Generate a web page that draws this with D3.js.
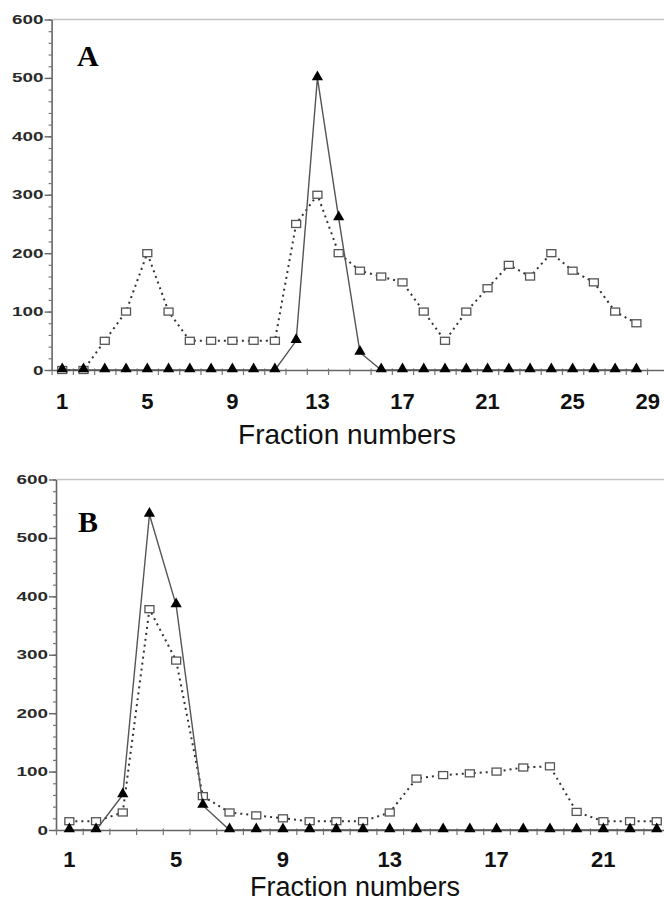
<!DOCTYPE html>
<html>
<head>
<meta charset="utf-8">
<script src="https://cdn.jsdelivr.net/npm/d3@7"></script>
<style>
  html, body { margin: 0; padding: 0; background: #fff; }
  svg { display: block; }
</style>
</head>
<body>
<script>
// ---- Data ----
const fractionsA = [1,2,3,4,5,6,7,8,9,10,11,12,13,14,15,16,17,18,19,20,21,22,23,24,25,26,27,28];
const squaresA   = [0,0,50,100,200,100,50,50,50,50,50,250,300,200,170,160,150,100,50,100,140,180,160,200,170,150,100,80];
const trianglesA = [0,0,0,0,0,0,0,0,0,0,0,50,500,260,30,0,0,0,0,0,0,0,0,0,0,0,0,0];
const xLabelsA   = [1,5,9,13,17,21,25,29];

const fractionsB = [1,2,3,4,5,6,7,8,9,10,11,12,13,14,15,16,17,18,19,20,21,22,23];
const squaresB   = [15,15,30,378,290,58,30,25,20,15,15,15,30,88,94,97,100,107,109,31,15,15,15];
const trianglesB = [0,0,60,540,385,42,0,0,0,0,0,0,0,0,0,0,0,0,0,0,0,0,0];
const xLabelsB   = [1,5,9,13,17,21];

const yLabels = [0,100,200,300,400,500,600];
const xTitle = "Fraction numbers";

// ---- Drawing ----
const W = 664, H = 902;
const svg = d3.select("body").append("svg").attr("width", W).attr("height", H);

function drawPanel(o) {
  const g = svg.append("g");
  const x = d3.scaleLinear().domain(o.xDomain).range(o.xRange);
  const y = d3.scaleLinear().domain([0, 600]).range(o.yRange);
  const x0 = o.xRange[0];

  // top frame line
  g.append("line")
    .attr("x1", x0).attr("x2", W).attr("y1", y(600)).attr("y2", y(600))
    .attr("stroke", "#c4c4c4").attr("stroke-width", 1.5);

  // y axis: minor ticks
  const yMinor = g.append("g").attr("transform", `translate(${x0},0)`)
    .call(d3.axisLeft(y).ticks(24).tickSize(3).tickSizeOuter(0).tickFormat(""));
  yMinor.select(".domain").remove();
  yMinor.selectAll("line").attr("stroke", "#777").attr("stroke-width", 1.2);

  // y axis major
  const yAx = g.append("g").attr("transform", `translate(${x0},0)`)
    .call(d3.axisLeft(y).tickValues(yLabels).tickSize(7).tickSizeOuter(0).tickPadding(o.yPad));
  yAx.select(".domain").attr("stroke", "#666").attr("stroke-width", 1.6);
  yAx.selectAll("line").attr("stroke", "#666").attr("stroke-width", 1.4);
  yAx.selectAll("text")
    .attr("font-family", "'Liberation Sans', Arial, sans-serif")
    .attr("font-weight", "bold")
    .attr("font-size", 12.5)
    .attr("fill", "#2a2a2a")
    .attr("textLength", d => String(d).length * 10.5)
    .attr("lengthAdjust", "spacingAndGlyphs");

  // x axis line with ticks at half positions
  const xTicks = o.fractions.map(f => f - 0.5).concat([o.fractions[o.fractions.length - 1] + 0.5]);
  const xAx = g.append("g").attr("transform", `translate(0,${y(0)})`)
    .call(d3.axisBottom(x).tickValues(xTicks).tickSize(5).tickSizeOuter(0).tickFormat(""));
  xAx.select(".domain").attr("stroke", "#666").attr("stroke-width", 1.6);
  xAx.selectAll(".tick line").attr("stroke", "#777").attr("stroke-width", 1.2).attr("y1", -1.5);

  // x labels
  const lab = g.append("g").selectAll("text").data(o.xLabels).join("text")
    .attr("x", d => x(d))
    .attr("y", o.xLabelY)
    .attr("text-anchor", "middle")
    .attr("font-family", "'Liberation Sans', Arial, sans-serif")
    .attr("font-weight", "bold")
    .attr("font-size", 22)
    .attr("fill", "#111")
    .text(d => d);
  lab.each(function() {
    const b = this.getBBox();
    if (b.x + b.width > W - 3) {
      d3.select(this).attr("x", +d3.select(this).attr("x") - (b.x + b.width - (W - 4)));
    }
  });

  // x title
  g.append("text")
    .attr("x", o.titleX).attr("y", o.titleY)
    .attr("text-anchor", "middle")
    .attr("font-family", "'Liberation Sans', Arial, sans-serif")
    .attr("font-size", o.titleSize)
    .attr("fill", "#111")
    .text(xTitle);

  // panel letter
  g.append("text")
    .attr("x", o.letterX).attr("y", o.letterY)
    .attr("font-family", "'Liberation Serif', 'Times New Roman', serif")
    .attr("font-weight", "bold")
    .attr("font-size", 30)
    .attr("fill", "#000")
    .text(o.letter);

  const sqData = o.fractions.map((f, i) => ({ f, v: o.squares[i] }));
  const trData = o.fractions.map((f, i) => ({ f, v: o.triangles[i] }));
  const line = d3.line().x(d => x(d.f)).y(d => y(d.v));

  // dotted square series
  g.append("path").datum(sqData)
    .attr("d", line)
    .attr("fill", "none")
    .attr("stroke", "#333")
    .attr("stroke-width", 2)
    .attr("stroke-dasharray", "2,4");

  g.append("g").selectAll("rect").data(sqData).join("rect")
    .attr("x", d => x(d.f) - 4.5)
    .attr("y", d => y(d.v) - 3.5)
    .attr("width", 9).attr("height", 7)
    .attr("fill", "#fff")
    .attr("stroke", "#555")
    .attr("stroke-width", 1.3);

  // solid triangle series
  g.append("path").datum(trData)
    .attr("d", line)
    .attr("fill", "none")
    .attr("stroke", "#555")
    .attr("stroke-width", 1.4);

  g.append("g").selectAll("path").data(trData).join("path")
    .attr("transform", d => `translate(${x(d.f)},${y(d.v) - 1})`)
    .attr("d", d3.symbol(d3.symbolTriangle, 55))
    .attr("fill", "#000");
}

drawPanel({
  fractions: fractionsA, squares: squaresA, triangles: trianglesA, xLabels: xLabelsA,
  xDomain: [0.5, 29.5], xRange: [51.6, 668.3], yRange: [370, 19.5],
  yPad: 1, xLabelY: 409, titleX: 347, titleY: 444, titleSize: 28,
  letter: "A", letterX: 77, letterY: 66
});

drawPanel({
  fractions: fractionsB, squares: squaresB, triangles: trianglesB, xLabels: xLabelsB,
  xDomain: [0.5, 24.5], xRange: [56, 696.8], yRange: [830, 479.5],
  yPad: 1, xLabelY: 866.5, titleX: 355, titleY: 896, titleSize: 27,
  letter: "B", letterX: 78, letterY: 532
});
</script>
</body>
</html>
